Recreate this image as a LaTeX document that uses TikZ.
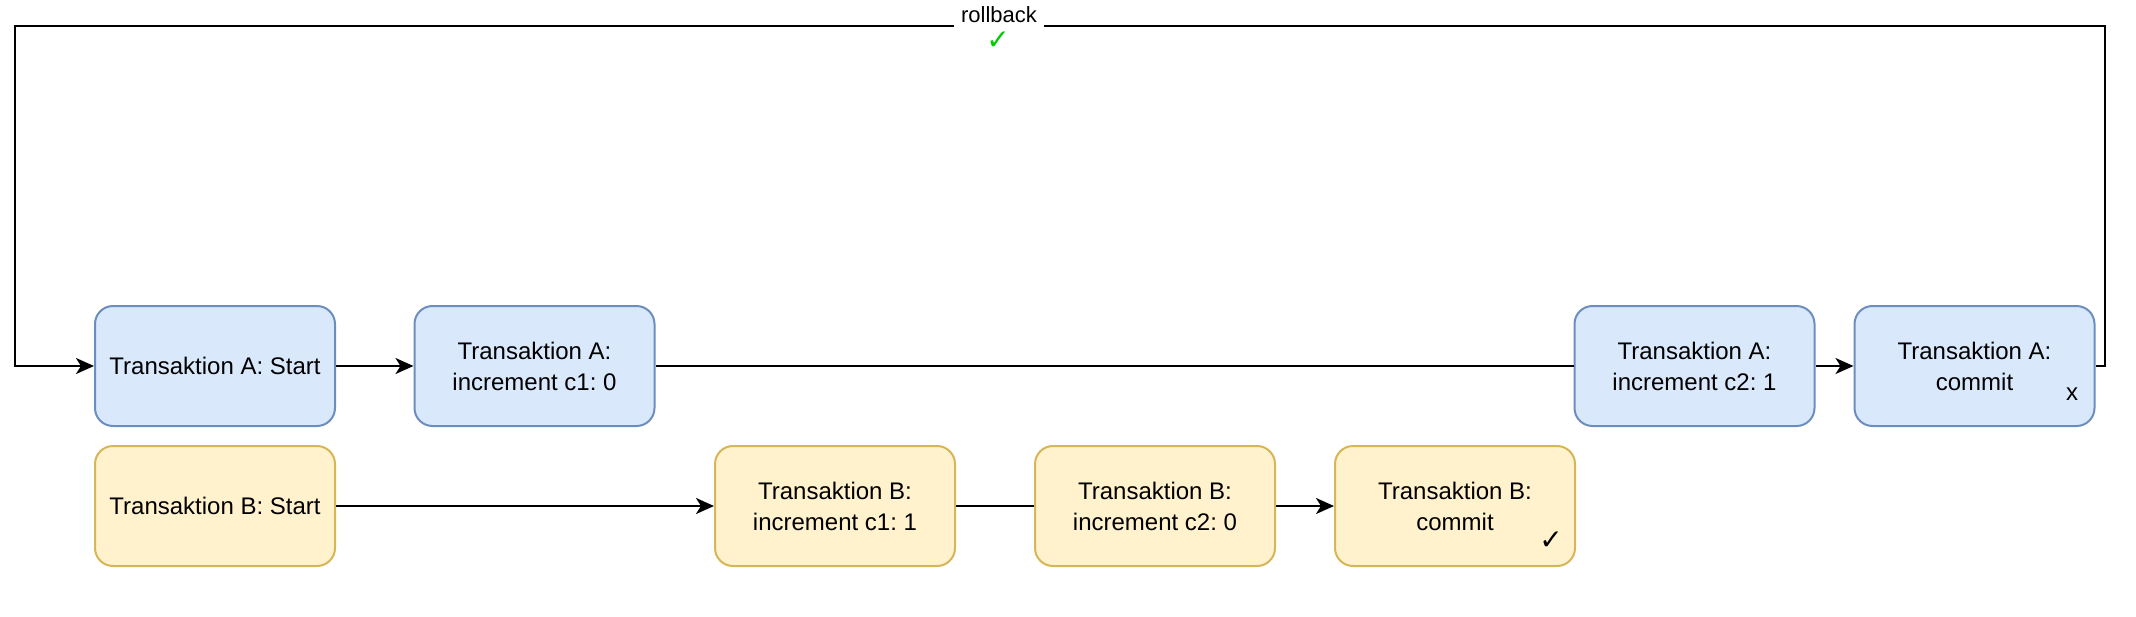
\documentclass[tikz,border=0pt]{standalone}
\usepackage{fontspec}
\setmainfont{Liberation Sans}
\newfontfamily\symfont{DejaVu Sans}
\usetikzlibrary{arrows.meta}
\frenchspacing

\definecolor{afill}{HTML}{DAE8FC}
\definecolor{aline}{HTML}{6C8EBF}
\definecolor{bfill}{HTML}{FFF2CC}
\definecolor{bline}{HTML}{D6B656}
\definecolor{okgreen}{HTML}{00CC00}

\begin{document}
\begin{tikzpicture}[x=1pt, y=-1pt, line width=1.1pt,
    every node/.style={font=\fontsize{12}{15.5}\selectfont},
    tx/.style={draw, rounded corners=9pt, align=center, minimum width=120pt, minimum height=60pt, inner sep=0pt, line width=1pt},
    txa/.style={tx, fill=afill, draw=aline},
    txb/.style={tx, fill=bfill, draw=bline},
    arr/.style={-{Stealth[length=9pt, width=8pt, inset=2.5pt]}}]
    \useasboundingbox (0,0) rectangle (1068,308);

    % Transaktion A
    \node[txa] (as) at (107.5,183) {Transaktion A: Start};
    \node[txa] (a1) at (267.25,183) {Transaktion A:\\increment c1: 0};
    \node[txa] (a2) at (847.25,183) {Transaktion A:\\increment c2: 1};
    \node[txa] (a3) at (987.25,183) {Transaktion A:\\commit};
    \node (ax) at (1036,197) {x};

    % Transaktion B
    \node[txb] (bs) at (107.5,253) {Transaktion B: Start};
    \node[txb] (b1) at (417.5,253) {Transaktion B:\\increment c1: 1};
    \node[txb] (b2) at (577.5,253) {Transaktion B:\\increment c2: 0};
    \node[txb] (b3) at (727.5,253) {Transaktion B:\\commit};
    \node[font=\fontsize{14}{16}\selectfont] (bok) at (775.5,270.5) {\symfont ✓};

    % Kanten
    \draw[arr] (as) -- (a1);
    \draw (a1) -- (a2);
    \draw[arr] (a2) -- (a3);
    \draw[arr] (bs) -- (b1);
    \draw (b1) -- (b2);
    \draw[arr] (b2) -- (b3);

    % rollback
    \coordinate (rt) at (1052.5,13);
    \coordinate (lt) at (7.5,13);
    \draw[arr] (a3.east) -| (rt) -- (lt) |- (as.west);
    \node[fill=white, font=\fontsize{11}{13}\selectfont, inner xsep=3.5pt, inner ysep=3pt, anchor=base] (rb) at (499.5,11) {rollback};
    \node[text=okgreen, font=\fontsize{14}{16}\selectfont] (rbok) at (499,20.5) {\symfont ✓};
\end{tikzpicture}
\end{document}
